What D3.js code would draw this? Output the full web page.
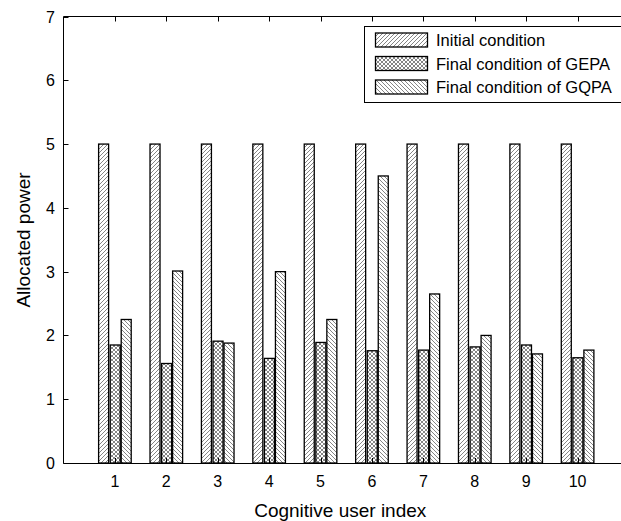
<!DOCTYPE html>
<html><head><meta charset="utf-8">
<script src="https://cdn.jsdelivr.net/npm/d3@7"></script>
<style>body{margin:0;background:#fff;} svg{display:block;} text{font-family:"Liberation Sans",Arial,sans-serif;fill:#000;}</style>
</head><body>
<svg id="c" width="621" height="521"></svg>
<script>
const categories = [1,2,3,4,5,6,7,8,9,10];
const seriesNames = ["Initial condition","Final condition of GEPA","Final condition of GQPA"];
const initialCondition = [5,5,5,5,5,5,5,5,5,5];
const gepaFinal = [1.85,1.56,1.91,1.64,1.89,1.76,1.77,1.82,1.85,1.65];
const gqpaFinal = [2.25,3.01,1.88,3.00,2.25,4.50,2.65,2.00,1.71,1.77];
const yTicks = [0,1,2,3,4,5,6,7];

(function(){
const series = [initialCondition, gepaFinal, gqpaFinal];
const svg = d3.select("#c");
const left = 63.5, topY = 16.5, bottom = 463, rightEdge = 629;

const x = d3.scaleLinear().domain([0,11]).range([left, rightEdge]);
const y = d3.scaleLinear().domain([0,7]).range([bottom, topY]);

// patterns
const defs = svg.append("defs");
const lw = 0.6, lc = "#333";
function hatch(id, dir){
  const p = defs.append("pattern").attr("id",id).attr("patternUnits","userSpaceOnUse")
    .attr("width",4).attr("height",4);
  p.append("rect").attr("width",4).attr("height",4).attr("fill","#fff");
  if(dir>0){
    p.append("path").attr("d","M-1,1 l2,-2 M0,4 l4,-4 M3,5 l2,-2").attr("stroke",lc).attr("stroke-width",lw);
  } else {
    p.append("path").attr("d","M-1,3 l2,2 M0,0 l4,4 M3,-1 l2,2").attr("stroke",lc).attr("stroke-width",lw);
  }
}
hatch("p0",1);
const px = defs.append("pattern").attr("id","p1").attr("patternUnits","userSpaceOnUse").attr("width",4).attr("height",4);
px.append("rect").attr("width",4).attr("height",4).attr("fill","#fff");
px.append("path").attr("d","M-1,1 l2,-2 M0,4 l4,-4 M3,5 l2,-2 M-1,3 l2,2 M0,0 l4,4 M3,-1 l2,2").attr("stroke",lc).attr("stroke-width",lw);
hatch("p2",-1);

// bars
const offsets = [-11.3, 0.3, 11.3];
const barW = 10;
series.forEach((vals,si)=>{
  svg.append("g").selectAll("rect").data(vals).join("rect")
    .attr("x",(d,i)=>x(categories[i]) + offsets[si] - barW/2)
    .attr("y",d=>y(d))
    .attr("width",barW)
    .attr("height",d=>y(0)-y(d))
    .attr("fill",`url(#p${si})`)
    .attr("stroke","#000").attr("stroke-width",1.3);
});

// axes
const ax = svg.append("g").attr("stroke","#000").attr("stroke-width",1).attr("fill","none");
ax.append("line").attr("x1",left).attr("x2",621).attr("y1",bottom+0.5).attr("y2",bottom+0.5);
ax.append("line").attr("x1",left).attr("x2",621).attr("y1",topY).attr("y2",topY);
ax.append("line").attr("x1",left).attr("x2",left).attr("y1",topY).attr("y2",bottom+0.5);
categories.forEach(c=>{
  const xx = Math.round(x(c))+0.5;
  ax.append("line").attr("x1",xx).attr("x2",xx).attr("y1",bottom).attr("y2",bottom-5);
  ax.append("line").attr("x1",xx).attr("x2",xx).attr("y1",topY).attr("y2",topY+5);
});
yTicks.forEach(t=>{
  const yy = Math.round(y(t))+0.5;
  ax.append("line").attr("x1",left).attr("x2",left+5).attr("y1",yy).attr("y2",yy);
});

// tick labels
svg.append("g").selectAll("text").data(categories).join("text")
  .attr("x",d=>x(d)).attr("y",487).attr("text-anchor","middle")
  .attr("font-size",16).text(d=>d);
svg.append("g").selectAll("text").data(yTicks).join("text")
  .attr("x",55).attr("y",d=>y(d)+6).attr("text-anchor","end")
  .attr("font-size",16).text(d=>d);

// axis labels
svg.append("text").attr("x",x(5.5)-6).attr("y",517).attr("text-anchor","middle")
  .attr("font-size",19).text("Cognitive user index");
svg.append("text").attr("transform","translate(30,240) rotate(-90)").attr("text-anchor","middle")
  .attr("font-size",19).text("Allocated power");

// legend
const lg = svg.append("g");
lg.append("rect").attr("x",364.5).attr("y",26.5).attr("width",260).attr("height",76)
  .attr("fill","#fff").attr("stroke","#000").attr("stroke-width",1);
seriesNames.forEach((n,i)=>{
  const cy = 40 + i*23.5;
  lg.append("rect").attr("x",375.5).attr("y",cy-7).attr("width",52).attr("height",14)
    .attr("fill",`url(#p${i})`).attr("stroke","#000").attr("stroke-width",1.3);
  lg.append("text").attr("x",436).attr("y",cy+6).attr("font-size",16.5).text(n);
});
})();
</script>
</body></html>
